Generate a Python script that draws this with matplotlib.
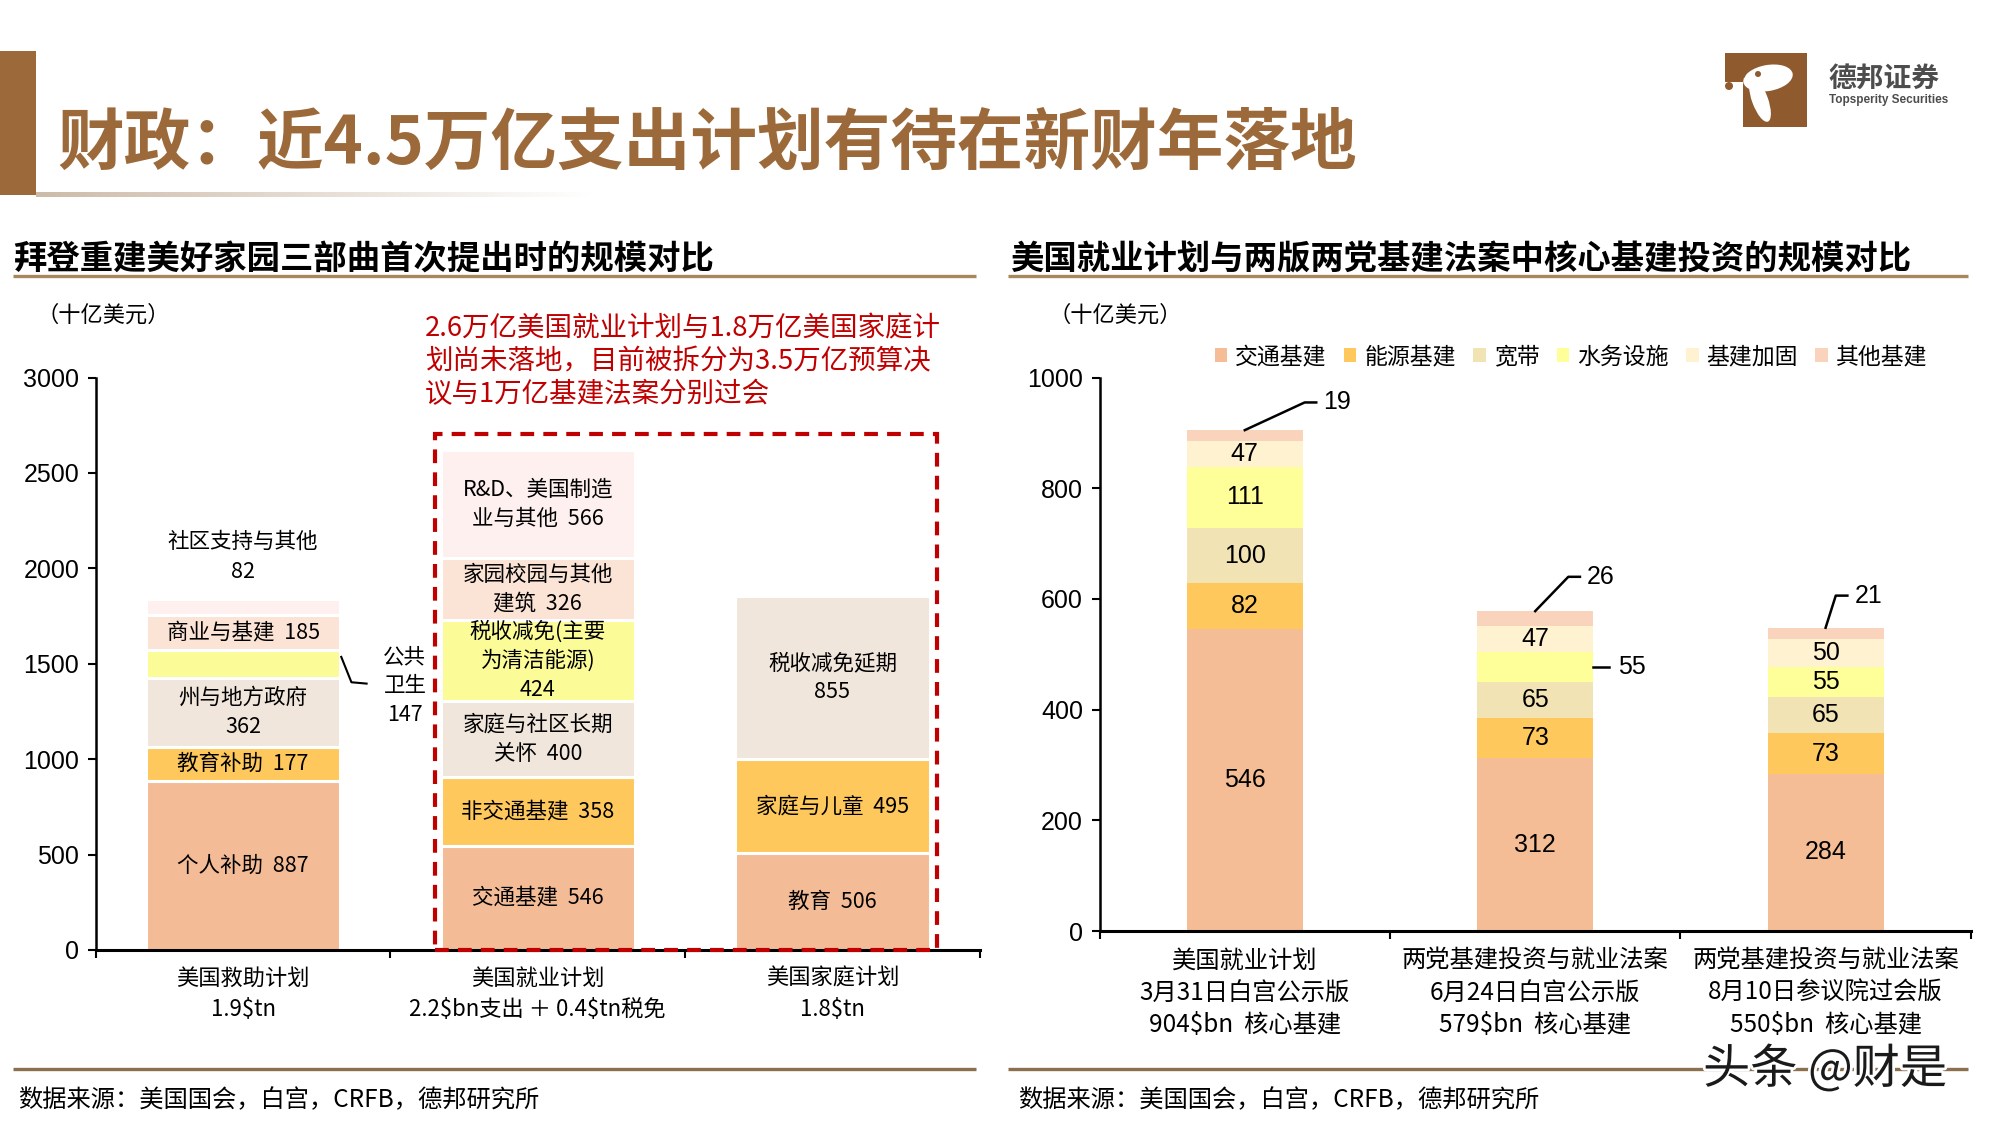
import numpy as np
import matplotlib
matplotlib.use('Agg')
import matplotlib.pyplot as plt
from matplotlib.patches import Rectangle, Polygon, Circle, Ellipse
from matplotlib.colors import LinearSegmentedColormap
import matplotlib.patheffects as pe

CJK = 'Noto Sans CJK SC'
NUM = ['Liberation Sans Narrow', 'Liberation Sans', 'DejaVu Sans']
plt.rcParams['font.family'] = [CJK, 'DejaVu Sans']

# ---------------- data ----------------
left_xlabels = ['美国救助计划\n1.9\\$tn', '美国就业计划\n2.2\\$bn支出 ＋ 0.4\\$tn税免', '美国家庭计划\n1.8\\$tn']

rescue_names = ['个人补助', '教育补助', '州与地方政府', '公共卫生', '商业与基建', '社区支持与其他']
rescue_vals = [887, 177, 362, 147, 185, 82]
rescue_labels = ['个人补助  {}', '教育补助  {}', '州与地方政府\n{}', None, '商业与基建  {}', None]

jobs_names = ['交通基建', '非交通基建', '家庭与社区长期关怀', '税收减免(主要为清洁能源)', '家园校园与其他建筑', 'R&D、美国制造业与其他']
jobs_vals = [546, 358, 400, 424, 326, 566]
jobs_labels = ['交通基建  {}', '非交通基建  {}', '家庭与社区长期\n关怀  {}', '税收减免(主要\n为清洁能源)\n{}', '家园校园与其他\n建筑  {}', 'R&D、美国制造\n业与其他  {}']

family_names = ['教育', '家庭与儿童', '税收减免延期']
family_vals = [506, 495, 855]
family_labels = ['教育  {}', '家庭与儿童  {}', '税收减免延期\n{}']

right_xlabels = ['美国就业计划\n3月31日白宫公示版\n904\\$bn  核心基建',
                 '两党基建投资与就业法案\n6月24日白宫公示版\n579\\$bn  核心基建',
                 '两党基建投资与就业法案\n8月10日参议院过会版\n550\\$bn  核心基建']
series_names = ['交通基建', '能源基建', '宽带', '水务设施', '基建加固', '其他基建']
transport = [546, 312, 284]
energy = [82, 73, 73]
broadband = [100, 65, 65]
water = [111, 55, 55]
resilience = [47, 47, 50]
other = [19, 26, 21]

# ---------------- styles ----------------
PEACH = '#F4BC96'
ORANGE = '#FEC85C'
BEIGE = '#F0E6DC'
YELLOW = '#FBFB98'
LPEACH = '#FBE3D6'
PINK = '#FDF0EF'
rescue_colors = [PEACH, ORANGE, BEIGE, YELLOW, LPEACH, PINK]
jobs_colors = [PEACH, ORANGE, BEIGE, YELLOW, LPEACH, PINK]
family_colors = [PEACH, ORANGE, BEIGE]
right_colors = ['#F4BD96', '#FEC85C', '#F2E3B5', '#FFFF99', '#FEF2D0', '#F9D3BC']
BROWN = '#9C6A3A'
RED = '#C00000'

fig = plt.figure(figsize=(20, 11.25), dpi=100)

# ---------------- background / decorations (pixel coords) ----------------
bg = fig.add_axes([0, 0, 1, 1])
bg.axis('off')
bg.add_patch(Rectangle((0, 51), 36, 144, color=BROWN, lw=0))
grad = np.linspace(0, 1, 256).reshape(1, -1)
cmap = LinearSegmentedColormap.from_list('g', ['#CDBBA8', '#FFFFFF'])
bg.imshow(grad, extent=(36, 590, 197, 192), aspect='auto', cmap=cmap, zorder=1)
bg.text(57, 144, '财政：近4.5万亿支出计划有待在新财年落地', fontsize=48, fontweight='bold',
        color=BROWN, va='center', ha='left')
# logo
bg.add_patch(Polygon([(1725, 53), (1807, 53), (1807, 127), (1743, 127), (1743, 82), (1725, 82)],
                     closed=True, color='#8F5B2E', lw=0))
bg.add_patch(Ellipse((1768, 78), 50, 26, angle=-10, color='white', lw=0))
bg.add_patch(Ellipse((1760, 100), 16, 46, angle=-20, color='white', lw=0))
bg.add_patch(Circle((1742, 75), 3.5, color='#8F5B2E', lw=0))
bg.add_patch(Circle((1758, 74), 3, color='#8F5B2E', lw=0))
bg.add_patch(Circle((1729, 86), 4, color='#8F5B2E', lw=0))
bg.text(1828, 79, '德邦证券', fontsize=20, fontweight='bold', color='#4D4D4D', va='center', ha='left')
bg.text(1829, 100.5, 'Topsperity Securities', fontsize=8.5, fontweight='bold', color='#4D4D4D',
        va='center', ha='left', family='Liberation Sans')
# section titles
bg.text(13, 260, '拜登重建美好家园三部曲首次提出时的规模对比', fontsize=24, fontweight='bold',
        color='black', va='center', ha='left')
bg.text(1010, 260, '美国就业计划与两版两党基建法案中核心基建投资的规模对比', fontsize=24, fontweight='bold',
        color='black', va='center', ha='left')
bg.plot([13, 976], [276, 276], color='#A8865E', lw=2.4, solid_capstyle='butt')
bg.plot([1008, 1968], [276, 276], color='#A8865E', lw=2.4, solid_capstyle='butt')
bg.text(36, 315, '（十亿美元）', fontsize=16, va='center', ha='left')
bg.text(1048, 315, '（十亿美元）', fontsize=16, va='center', ha='left')
bg.text(425, 362, '2.6万亿美国就业计划与1.8万亿美国家庭计\n划尚未落地，目前被拆分为3.5万亿预算决\n议与1万亿基建法案分别过会',
        fontsize=19.8, color=RED, va='center', ha='left', linespacing=1.27)
# bottom lines and sources
bg.plot([13, 976], [1069, 1069], color='#8B7050', lw=2.4, solid_capstyle='butt')
bg.plot([1008, 1968], [1069, 1069], color='#8B7050', lw=2.4, solid_capstyle='butt')
bg.text(18, 1100, '数据来源：美国国会，白宫，CRFB，德邦研究所', fontsize=17.5, va='center', ha='left')
bg.text(1018, 1100, '数据来源：美国国会，白宫，CRFB，德邦研究所', fontsize=17.5, va='center', ha='left')
bg.text(1703, 1070, '头条 @财是', fontsize=34, color='#1A1A1A', va='center', ha='left', zorder=5,
        path_effects=[pe.withStroke(linewidth=4, foreground='white')])
bg.set_xlim(0, 2000)
bg.set_ylim(1125, 0)

# ---------------- left chart ----------------
axL = fig.add_axes([0.0479, 0.1556, 0.442, 0.5088])
BW = 0.66


def stack_left(x, vals, colors, labels):
    bottom = 0
    for v, c, lab in zip(vals, colors, labels):
        axL.bar(x, v, BW, bottom=bottom, color=c, edgecolor='white', linewidth=2.2)
        if lab is not None:
            axL.text(x, bottom + v / 2, lab.format(v), ha='center', va='center', fontsize=15.5,
                     linespacing=1.42)
        bottom += v
    return bottom


stack_left(0, rescue_vals, rescue_colors, rescue_labels)
stack_left(1, jobs_vals, jobs_colors, jobs_labels)
stack_left(2, family_vals, family_colors, family_labels)

# outside labels for rescue plan
axL.text(0, 2061, '社区支持与其他\n{}'.format(rescue_vals[5]), ha='center', va='center', fontsize=15.5,
         linespacing=1.5)
axL.text(0.549, 1383, '公共\n卫生\n{}'.format(rescue_vals[3]), ha='center', va='center', fontsize=15.5,
         linespacing=1.42)
axL.plot([0.333, 0.3675, 0.419], [1536, 1403, 1396], color='black', lw=1.5)

# red dashed box
axL.add_patch(Rectangle((0.65, 0), 1.704, 2705, fill=False, edgecolor=RED, lw=3,
                        linestyle=(0, (3.3, 2.2)), clip_on=False, zorder=5))

axL.set_xlim(-0.5, 2.5)
axL.set_ylim(0, 3000)
axL.set_yticks(range(0, 3001, 500))
axL.set_yticklabels([str(v) for v in range(0, 3001, 500)], family=NUM, fontsize=18)
axL.set_xticks([-0.5, 0.5, 1.5, 2.5])
axL.set_xticklabels([])
axL.set_xticks([0, 1, 2], minor=True)
axL.set_xticklabels(left_xlabels, minor=True, fontsize=16, linespacing=1.45)
axL.tick_params(axis='x', which='minor', length=0, pad=12)
axL.tick_params(axis='x', which='major', length=6, width=1.5, direction='out')
axL.tick_params(axis='y', length=6, width=1.5, direction='out', pad=6)
for s in ['top', 'right']:
    axL.spines[s].set_visible(False)
axL.spines['left'].set_linewidth(1.8)
axL.spines['bottom'].set_linewidth(2.2)
axL.patch.set_alpha(0)

# ---------------- right chart ----------------
axR = fig.add_axes([0.5498, 0.1724, 0.4356, 0.492])
xr = np.arange(3)
BWR = 0.40
series = [transport, energy, broadband, water, resilience, other]
bottom = np.zeros(3)
handles = []
for k, (vals, col, name) in enumerate(zip(series, right_colors, series_names)):
    vals = np.array(vals, dtype=float)
    h = axR.bar(xr, vals, BWR, bottom=bottom, color=col, linewidth=0, label=name)
    handles.append(h)
    for i in range(3):
        v = int(vals[i])
        mid = bottom[i] + vals[i] / 2
        if k == 5:
            continue
        if k == 3 and i == 1:
            axR.plot([i + BWR / 2, i + BWR / 2 + 0.055], [mid, mid], color='black', lw=1.8)
            axR.text(i + BWR / 2 + 0.085, mid, str(v), ha='left', va='center', fontsize=18, family=NUM)
            continue
        axR.text(i, mid, str(v), ha='center', va='center', fontsize=18, family=NUM)
    bottom += vals

# leader labels for "其他基建"
elbows = [(0.206, 50), (0.114, 62), (0.035, 58)]
for i, (dx, dy) in enumerate(elbows):
    top = bottom[i]
    axR.plot([i, i + dx, i + dx + 0.04], [top, top + dy, top + dy], color='black', lw=1.8)
    axR.text(i + dx + 0.065, top + dy, str(other[i]), ha='left', va='center', fontsize=18, family=NUM)

axR.set_xlim(-0.5, 2.5)
axR.set_ylim(0, 1000)
axR.set_yticks(range(0, 1001, 200))
axR.set_yticklabels([str(v) for v in range(0, 1001, 200)], family=NUM, fontsize=18)
axR.set_xticks([-0.5, 0.5, 1.5, 2.5])
axR.set_xticklabels([])
axR.set_xticks([0, 1, 2], minor=True)
axR.set_xticklabels(right_xlabels, minor=True, fontsize=17.5, linespacing=1.3)
axR.tick_params(axis='x', which='minor', length=0, pad=12)
axR.tick_params(axis='x', which='major', length=6, width=1.5, direction='out')
axR.tick_params(axis='y', length=6, width=1.5, direction='out', pad=6)
for s in ['top', 'right']:
    axR.spines[s].set_visible(False)
axR.spines['left'].set_linewidth(1.8)
axR.spines['bottom'].set_linewidth(2.2)
axR.patch.set_alpha(0)

fig.legend(handles=handles, labels=series_names, loc='center', bbox_to_anchor=(1571 / 2000, 1 - 357 / 1125),
           ncol=6, frameon=False, fontsize=16.5, handlelength=0.55, handleheight=0.55, handletextpad=0.35,
           columnspacing=0.75)

fig.savefig('out.png', dpi=100)
